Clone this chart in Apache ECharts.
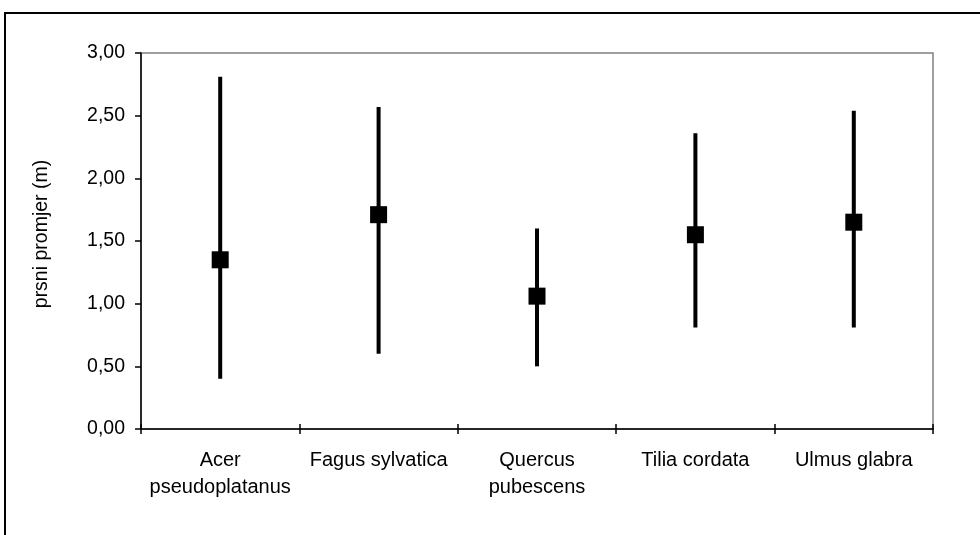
<!DOCTYPE html>
<html>
<head>
<meta charset="utf-8">
<script src="https://cdn.jsdelivr.net/npm/echarts@6/dist/echarts.min.js"></script>
<style>
html,body{margin:0;padding:0;background:#fff;}
#c{width:980px;height:535px;}
</style>
</head>
<body>
<div id="c"></div>
<script>
var categories = ['Acer\npseudoplatanus', 'Fagus sylvatica', 'Quercus\npubescens', 'Tilia cordata', 'Ulmus glabra'];
var meanValues = [1.35, 1.71, 1.06, 1.55, 1.65];
var lowValues = [0.40, 0.60, 0.50, 0.81, 0.81];
var highValues = [2.81, 2.57, 1.60, 2.36, 2.54];
var yAxisTitle = 'prsni promjer (m)';

var errData = categories.map(function (c, i) { return [i, lowValues[i], highValues[i]]; });
var meanData = categories.map(function (c, i) { return [i, meanValues[i]]; });

var chart = echarts.init(document.getElementById('c'));
var font = 'Liberation Sans, Arial, sans-serif';
chart.setOption({
  animation: false,
  backgroundColor: '#fff',
  graphic: [{
    type: 'rect', z: 100,
    shape: { x: 5, y: 13, width: 1000, height: 600 },
    style: { fill: 'none', stroke: '#000', lineWidth: 2 }
  }],
  grid: {
    left: 141, right: 47, top: 53, bottom: 106,
    show: true, borderColor: '#808080', borderWidth: 1.5, backgroundColor: '#fff'
  },
  xAxis: [{
    type: 'category',
    data: categories,
    boundaryGap: true,
    axisLine: { lineStyle: { color: '#000', width: 1.5 } },
    axisTick: { show: true, length: 5, alignWithLabel: false, lineStyle: { color: '#000', width: 1.5 } },
    axisLabel: { color: '#000', fontSize: 20, fontFamily: font, lineHeight: 27, margin: 18, interval: 0 },
    splitLine: { show: false }
  }, {
    type: 'category',
    data: categories,
    position: 'bottom',
    boundaryGap: true,
    axisLine: { show: false },
    axisTick: { show: true, inside: true, length: 5, lineStyle: { color: '#000', width: 1.5 } },
    axisLabel: { show: false },
    splitLine: { show: false }
  }],
  yAxis: {
    type: 'value',
    min: 0, max: 3, interval: 0.5,
    name: yAxisTitle,
    nameLocation: 'middle',
    nameGap: 89,
    nameTextStyle: { color: '#000', fontSize: 19.5, fontFamily: font, padding: [0, 0, 0, 14] },
    axisLine: { show: true, lineStyle: { color: '#000', width: 1.5 } },
    axisTick: { show: true, length: 6, lineStyle: { color: '#000', width: 1.5 } },
    axisLabel: {
      color: '#000', fontSize: 19.5, fontFamily: font, margin: 16,
      formatter: function (v) { return v.toFixed(2).replace('.', ','); }
    },
    splitLine: { show: false }
  },
  series: [{
    type: 'custom',
    data: errData,
    z: 5,
    renderItem: function (params, api) {
      var x = api.value(0);
      var p1 = api.coord([x, api.value(1)]);
      var p2 = api.coord([x, api.value(2)]);
      return {
        type: 'line',
        shape: { x1: p1[0], y1: p1[1], x2: p2[0], y2: p2[1] },
        style: { stroke: '#000', lineWidth: 4 }
      };
    }
  }, {
    type: 'scatter',
    data: meanData,
    z: 6,
    symbol: 'rect',
    symbolSize: 17,
    itemStyle: { color: '#000', opacity: 1 }
  }]
});
</script>
</body>
</html>
